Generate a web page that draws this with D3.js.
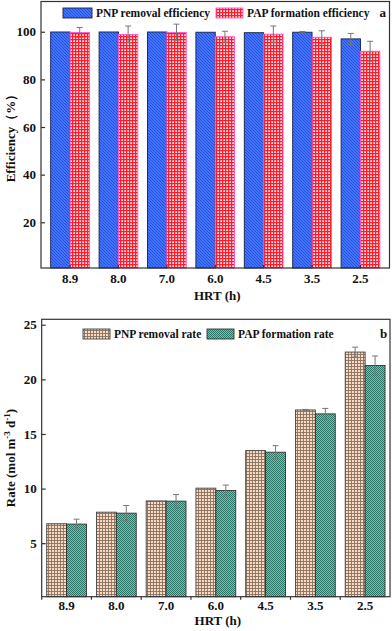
<!DOCTYPE html>
<head>
  <style>
    body { margin: 0; background: #fff; }
    text { font-family: "Liberation Serif", "Times New Roman", serif; font-weight: bold; fill: #111; }
  </style>
  <title>HRT efficiency and rate</title>
</head>
<body>
  <script src="https://cdn.jsdelivr.net/npm/d3@7"></script>
  <script>
    // data
    var hrt = ["8.9", "8.0", "7.0", "6.0", "4.5", "3.5", "2.5"];

    var pnpEff = [99.9, 99.9, 99.9, 99.8, 99.6, 99.8, 97.0];
    var pnpEffErr = [0, 0, 0, 0, 0, 0.3, 2.3];
    var papEff = [99.7, 98.9, 99.7, 97.9, 99.0, 97.7, 91.8];
    var papEffErr = [2.1, 3.5, 3.5, 2.3, 3.4, 2.7, 4.2];

    var pnpRate = [6.78, 7.84, 8.87, 10.04, 13.48, 17.2, 22.5];
    var pnpRateErr = [0, 0, 0, 0, 0, 0.05, 0.45];
    var papRate = [6.75, 7.75, 8.85, 9.82, 13.33, 16.84, 21.27];
    var papRateErr = [0.45, 0.7, 0.6, 0.5, 0.6, 0.5, 0.87];

    var effTicks = [20, 40, 60, 80, 100];
    var rateTicks = [5, 10, 15, 20, 25];

    var width = 392, height = 631;

    var svg = d3.select("body").append("svg")
      .attr("width", width)
      .attr("height", height);

    // fill patterns
    var defs = svg.append("defs");

    var p1 = defs.append("pattern").attr("id", "blueHatch")
      .attr("patternUnits", "userSpaceOnUse").attr("width", 3).attr("height", 3);
    p1.append("rect").attr("width", 3).attr("height", 3).attr("fill", "#4275ff");
    p1.append("path").attr("d", "M0,0 L3,3 M-1,2 L1,4 M2,-1 L4,1")
      .attr("stroke", "#2444c4").attr("stroke-width", 0.8);

    var p2 = defs.append("pattern").attr("id", "redGrid")
      .attr("patternUnits", "userSpaceOnUse").attr("width", 3).attr("height", 3);
    p2.append("rect").attr("width", 3).attr("height", 3).attr("fill", "#ffe4ea");
    p2.append("path").attr("d", "M0,0.6 H3 M0.6,0 V3").attr("stroke", "#ff1c2a").attr("stroke-width", 1.3);

    var p3 = defs.append("pattern").attr("id", "peachGrid")
      .attr("patternUnits", "userSpaceOnUse").attr("width", 3).attr("height", 3);
    p3.append("rect").attr("width", 3).attr("height", 3).attr("fill", "#fcd9c0");
    p3.append("path").attr("d", "M0,0.5 H3 M0.5,0 V3").attr("stroke", "#84705f").attr("stroke-width", 0.9);

    var p4 = defs.append("pattern").attr("id", "tealCheck")
      .attr("patternUnits", "userSpaceOnUse").attr("width", 2).attr("height", 2);
    p4.append("rect").attr("width", 2).attr("height", 2).attr("fill", "#44dbb0");
    p4.append("rect").attr("width", 1).attr("height", 1).attr("fill", "#2a7565");
    p4.append("rect").attr("x", 1).attr("y", 1).attr("width", 1).attr("height", 1).attr("fill", "#2a7565");

    function drawPanel(opt) {
      var g = svg.append("g");
      var x = d3.scaleBand().domain(hrt).range([opt.left, opt.right])
        .paddingInner(0.2).paddingOuter(opt.outer);
      var x1 = d3.scaleBand().domain([0, 1]).range([0, x.bandwidth()]);
      var y = d3.scaleLinear().domain(opt.ydom).range([opt.bottom, opt.top]);

      var series = [
        { vals: opt.s1, err: opt.e1, fill: opt.f1, stroke: opt.st1 },
        { vals: opt.s2, err: opt.e2, fill: opt.f2, stroke: opt.st2 }
      ];

      series.forEach(function (s, k) {
        g.selectAll(".bar" + k)
          .data(s.vals)
          .enter().append("rect")
          .attr("x", function (d, i) { return x(hrt[i]) + x1(k); })
          .attr("y", function (d) { return y(d); })
          .attr("width", x1.bandwidth())
          .attr("height", function (d) { return opt.bottom - y(d); })
          .attr("fill", s.fill)
          .attr("stroke", s.stroke)
          .attr("stroke-width", 0.9);

        // error bars
        s.vals.forEach(function (d, i) {
          if (!s.err[i]) return;
          var cx = x(hrt[i]) + x1(k) + x1.bandwidth() / 2;
          var eb = g.append("g").attr("stroke", "#777").attr("stroke-width", 1);
          eb.append("line").attr("x1", cx).attr("x2", cx)
            .attr("y1", y(d + s.err[i])).attr("y2", y(d - s.err[i]));
          eb.append("line").attr("x1", cx - 3).attr("x2", cx + 3)
            .attr("y1", y(d + s.err[i])).attr("y2", y(d + s.err[i]));
          eb.append("line").attr("x1", cx - 3).attr("x2", cx + 3)
            .attr("y1", y(d - s.err[i])).attr("y2", y(d - s.err[i]));
        });
      });

      // frame
      g.append("rect")
        .attr("x", opt.left).attr("y", opt.top)
        .attr("width", opt.right - opt.left).attr("height", opt.bottom - opt.top)
        .attr("fill", "none").attr("stroke", "#333").attr("stroke-width", 1.2);

      // y axis
      var yAxis = g.append("g")
        .attr("transform", "translate(" + opt.left + ",0)")
        .call(d3.axisLeft(y).tickValues(opt.ticks).tickSizeInner(-4).tickSizeOuter(0).tickPadding(5));
      yAxis.select(".domain").remove();
      yAxis.selectAll("line").attr("stroke", "#333").attr("stroke-width", 1.2);
      yAxis.selectAll("text").style("font-size", "13px").style("font-family", "Liberation Serif").style("font-weight", "bold");

      // x axis
      var xAxis = g.append("g")
        .attr("class", "xaxis")
        .attr("transform", "translate(0," + opt.bottom + ")")
        .call(d3.axisBottom(x).tickSizeInner(opt.xtick).tickSizeOuter(0));
      xAxis.select(".domain").remove();
      xAxis.selectAll("line").attr("stroke", "#333").attr("stroke-width", 1.2);
      xAxis.selectAll("text")
        .attr("y", opt.xlabOff).attr("dy", 0)
        .style("font-size", "13px").style("font-family", "Liberation Serif").style("font-weight", "bold");

      g.append("text")
        .attr("x", (opt.left + opt.right) / 2 + 2)
        .attr("y", opt.xlabelY)
        .attr("text-anchor", "middle")
        .style("font-size", "13px")
        .text("HRT (h)");

      // legend
      opt.legend.forEach(function (l, k) {
        g.append("rect")
          .attr("x", l.x).attr("y", opt.legendY)
          .attr("width", l.w).attr("height", 10)
          .attr("fill", series[k].fill)
          .attr("stroke", series[k].stroke).attr("stroke-width", 0.9);
        g.append("text")
          .attr("x", l.x + l.w + 4).attr("y", opt.legendY + 9)
          .style("font-size", "11.5px")
          .text(l.label);
      });

      g.append("text")
        .attr("x", opt.right - 10).attr("y", opt.legendY + 9)
        .style("font-size", "13px")
        .text(opt.tag);

      g.x = x;
      return g;
    }

    // panel a
    var ga = drawPanel({
      left: 41, right: 389.5, top: 1.5, bottom: 268, outer: 0.2,
      ydom: [0.8, 112.7], ticks: effTicks, xtick: -3, xlabOff: 15,
      s1: pnpEff, e1: pnpEffErr, f1: "url(#blueHatch)", st1: "#14204f",
      s2: papEff, e2: papEffErr, f2: "url(#redGrid)", st2: "#ff55cc",
      legendY: 8, xlabelY: 300, tag: "a",
      legend: [
        { x: 63, w: 29, label: "PNP removal efficiency" },
        { x: 216, w: 27, label: "PAP formation efficiency" }
      ]
    });

    ga.append("text")
      .attr("transform", "translate(15," + 135 + ") rotate(-90)")
      .attr("text-anchor", "middle")
      .style("font-size", "13px")
      .text("Efficiency（%）");

    // panel b
    var gb = drawPanel({
      left: 41.7, right: 390, top: 319.3, bottom: 596.7, outer: 0.1,
      ydom: [0.1, 25.5], ticks: rateTicks, xtick: 3, xlabOff: 13,
      s1: pnpRate, e1: pnpRateErr, f1: "url(#peachGrid)", st1: "#444",
      s2: papRate, e2: papRateErr, f2: "url(#tealCheck)", st2: "#333",
      legendY: 329, xlabelY: 625, tag: "b",
      legend: [
        { x: 83, w: 27, label: "PNP removal rate" },
        { x: 207, w: 27, label: "PAP formation rate" }
      ]
    });

    // x ticks of panel b sit between the categories
    gb.select(".xaxis").selectAll(".tick line")
      .attr("transform", "translate(" + (-gb.x.step() / 2) + ",0)");

    var yl = gb.append("text")
      .attr("transform", "translate(15," + 458 + ") rotate(-90)")
      .attr("text-anchor", "middle")
      .style("font-size", "13px");
    yl.append("tspan").text("Rate (mol m");
    yl.append("tspan").attr("dy", -5).style("font-size", "9px").text("-3");
    yl.append("tspan").attr("dy", 5).text(" d");
    yl.append("tspan").attr("dy", -5).style("font-size", "9px").text("-1");
    yl.append("tspan").attr("dy", 5).text(")");
  </script>
</body>
